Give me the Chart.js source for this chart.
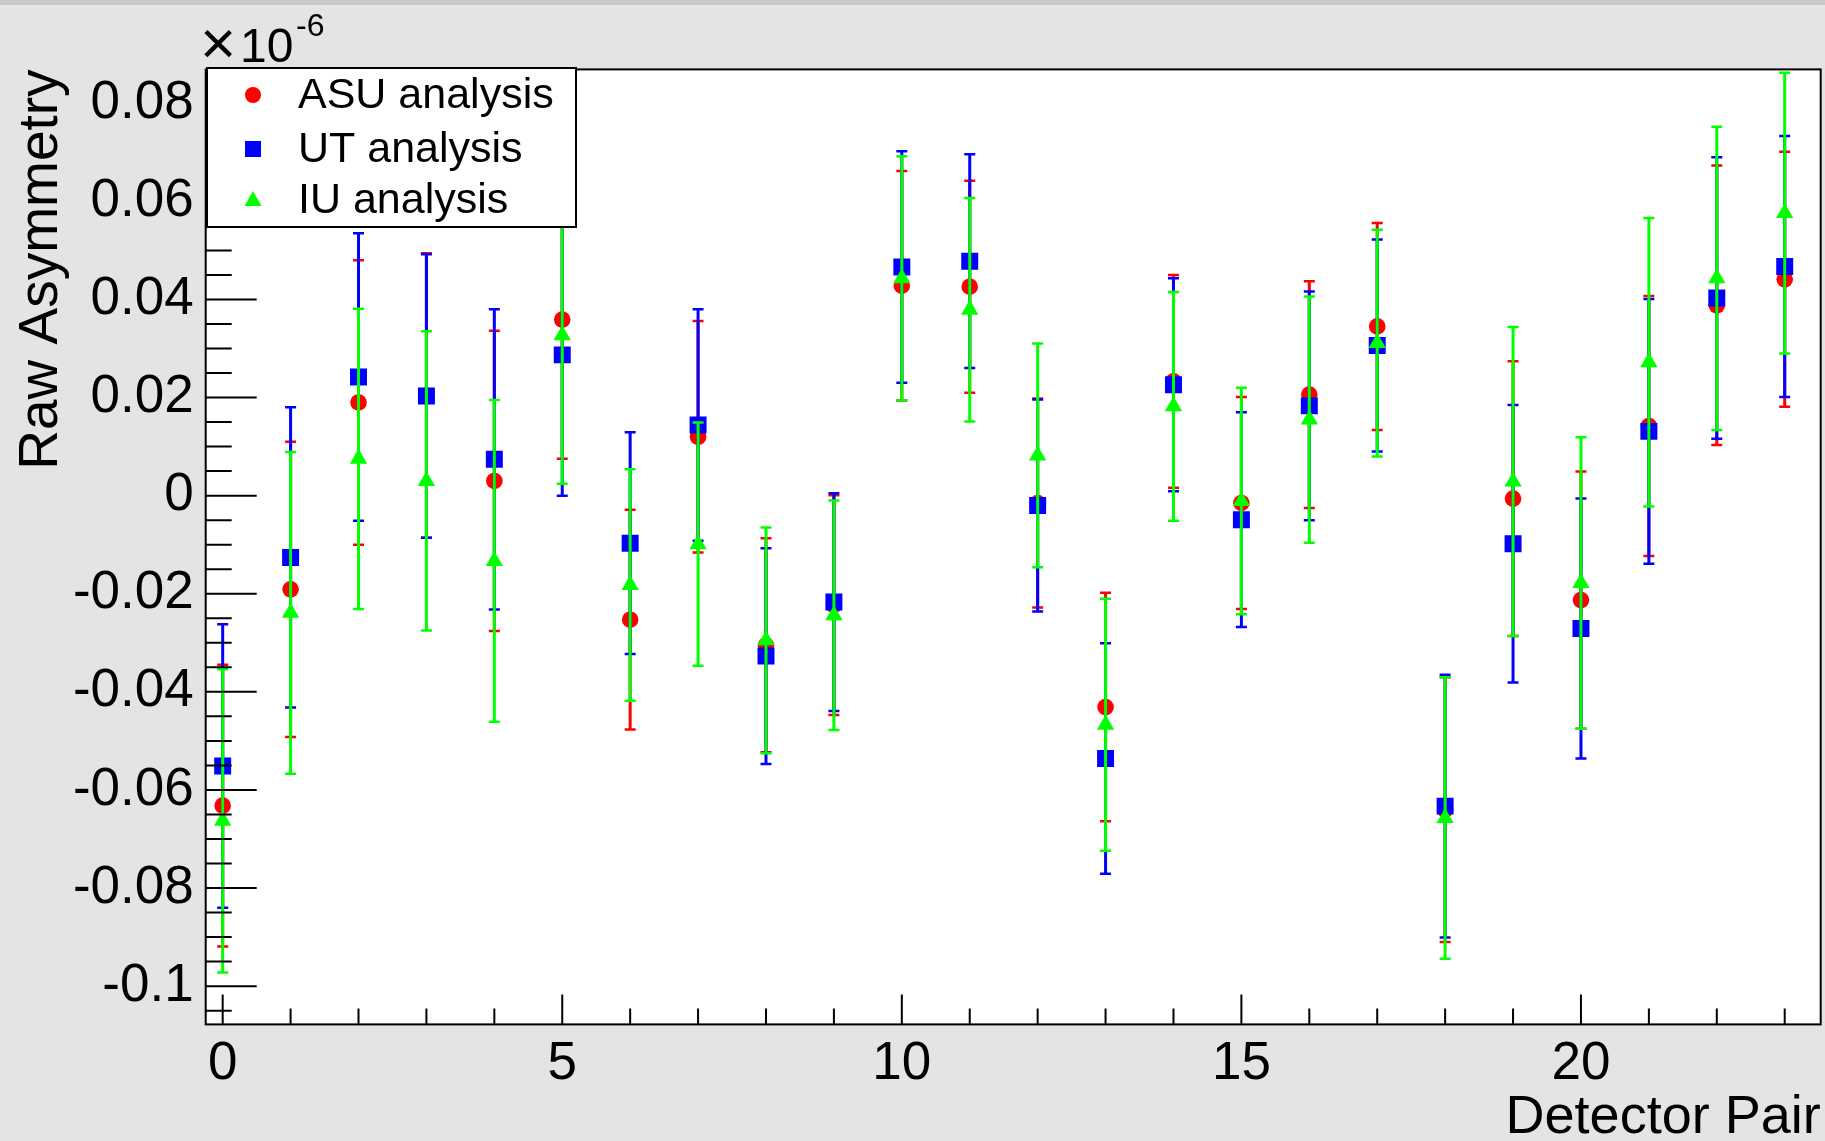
<!DOCTYPE html>
<html>
<head>
<meta charset="utf-8">
<title>Raw Asymmetry per Detector Pair</title>
<script src="https://cdn.jsdelivr.net/npm/chart.js@4.4.1/dist/chart.umd.min.js"></script>
<style>
  html, body { margin: 0; padding: 0; background: #e4e4e4; }
  canvas { display: block; }
</style>
</head>
<body>
<canvas id="chartAsym" width="1825" height="1141"></canvas>
<script>
// detector pair index on x, raw asymmetry in units of 1e-6 on y
const pairs = [0, 1, 2, 3, 4, 5, 6, 7, 8, 9, 10, 11, 12, 13, 14, 15, 16, 17, 18, 19, 20, 21, 22, 23];

const asuVal = [-0.0632, -0.0191, 0.0190, 0.0204, 0.0030, 0.0359, -0.0253, 0.0120, -0.0305, -0.0223, 0.0428, 0.0426, -0.0015, -0.0431, 0.0233, -0.0015, 0.0206, 0.0345, -0.0640, -0.0006, -0.0213, 0.0142, 0.0388, 0.0441];
const asuErr = [0.0287, 0.0301, 0.0290, 0.0290, 0.0306, 0.0284, 0.0224, 0.0236, 0.0218, 0.0224, 0.0234, 0.0216, 0.0213, 0.0233, 0.0217, 0.0216, 0.0231, 0.0211, 0.0270, 0.0280, 0.0262, 0.0265, 0.0285, 0.0260];

const utVal = [-0.0551, -0.0126, 0.0242, 0.0203, 0.0074, 0.0287, -0.0097, 0.0144, -0.0327, -0.0217, 0.0466, 0.0478, -0.0020, -0.0536, 0.0226, -0.0049, 0.0183, 0.0306, -0.0633, -0.0098, -0.0271, 0.0131, 0.0403, 0.0467];
const utErr = [0.0289, 0.0306, 0.0293, 0.0289, 0.0306, 0.0287, 0.0226, 0.0236, 0.0220, 0.0222, 0.0236, 0.0218, 0.0216, 0.0235, 0.0217, 0.0219, 0.0233, 0.0216, 0.0268, 0.0283, 0.0265, 0.0270, 0.0287, 0.0266];

const iuVal = [-0.0663, -0.0239, 0.0075, 0.0030, -0.0133, 0.0327, -0.0182, -0.0099, -0.0295, -0.0244, 0.0443, 0.0379, 0.0082, -0.0467, 0.0182, -0.0011, 0.0155, 0.0311, -0.0657, 0.0029, -0.0178, 0.0272, 0.0443, 0.0576];
const iuErr = [0.0309, 0.0328, 0.0306, 0.0305, 0.0328, 0.0303, 0.0236, 0.0248, 0.0230, 0.0234, 0.0249, 0.0228, 0.0228, 0.0257, 0.0233, 0.0231, 0.0251, 0.0231, 0.0287, 0.0315, 0.0297, 0.0294, 0.0309, 0.0286];

const xTicks = [0, 5, 10, 15, 20];
const yTicks = [-0.1, -0.08, -0.06, -0.04, -0.02, 0, 0.02, 0.04, 0.06, 0.08];
const yTickLabels = ["-0.1", "-0.08", "-0.06", "-0.04", "-0.02", "0", "0.02", "0.04", "0.06", "0.08"];

const FONT = "'Liberation Sans', Arial, Helvetica, sans-serif";

const points = (vals, errs) => pairs.map((p, i) => ({ x: p, y: vals[i], err: errs[i] }));

// vertical error bars with end caps, drawn just before each dataset's markers
const errorBars = {
  id: "errorBars",
  beforeDatasetDraw(chart, args) {
    const ds = chart.data.datasets[args.index];
    const { ctx, chartArea: a } = chart;
    const xs = chart.scales.x, ys = chart.scales.y;
    ctx.save();
    ctx.beginPath();
    ctx.rect(a.left, a.top, a.right - a.left, a.bottom - a.top);
    ctx.clip();
    ctx.strokeStyle = ds.pointBackgroundColor;
    ds.data.forEach((p) => {
      const px = xs.getPixelForValue(p.x);
      const top = ys.getPixelForValue(p.y + p.err);
      const bot = ys.getPixelForValue(p.y - p.err);
      ctx.lineWidth = 3;
      ctx.beginPath();
      ctx.moveTo(px, top);
      ctx.lineTo(px, bot);
      ctx.stroke();
      ctx.lineWidth = 2.5;
      ctx.beginPath();
      ctx.moveTo(px - 5.5, top);
      ctx.lineTo(px + 5.5, top);
      ctx.moveTo(px - 5.5, bot);
      ctx.lineTo(px + 5.5, bot);
      ctx.stroke();
    });
    ctx.restore();
  },
};

// grey pad, white frame, inward ticks (ROOT look)
const frame = {
  id: "frame",
  beforeDraw(chart) {
    const { ctx, chartArea: a, width, height } = chart;
    ctx.save();
    ctx.fillStyle = "#e4e4e4";
    ctx.fillRect(0, 0, width, height);
    ctx.fillStyle = "#c9c9c9";
    ctx.fillRect(0, 0, width, 5);
    ctx.fillStyle = "#ffffff";
    ctx.fillRect(a.left, a.top, a.right - a.left, a.bottom - a.top);
    ctx.restore();
  },
  afterDatasetsDraw(chart) {
    const { ctx, chartArea: a } = chart;
    const xs = chart.scales.x, ys = chart.scales.y;
    ctx.save();
    ctx.strokeStyle = "#000";
    ctx.lineWidth = 2;
    ctx.beginPath();
    // y ticks: major every 0.02, minor every 0.005
    for (let k = -22; k <= 17; k++) {
      const v = k * 0.005;
      if (v < ys.min || v > ys.max) continue;
      const py = ys.getPixelForValue(v);
      const len = k % 4 === 0 ? 51 : 26;
      ctx.moveTo(a.left, py);
      ctx.lineTo(a.left + len, py);
    }
    // x ticks: major every 5, minor every 1
    for (let k = 0; k <= Math.floor(xs.max); k++) {
      const px = xs.getPixelForValue(k);
      const len = k % 5 === 0 ? 30 : 16;
      ctx.moveTo(px, a.bottom);
      ctx.lineTo(px, a.bottom - len);
    }
    ctx.stroke();
    ctx.strokeRect(a.left, a.top, a.right - a.left, a.bottom - a.top);
    ctx.restore();
  },
  afterDraw(chart) {
    const { ctx } = chart;
    ctx.save();
    // exponent of the y axis: big times sign, "10", raised "-6"
    ctx.fillStyle = "#000";
    ctx.textBaseline = "alphabetic";
    ctx.font = "62px " + FONT;
    ctx.fillText("\u00d7", 200, 64);
    ctx.font = "48px " + FONT;
    ctx.fillText("10", 240, 62);
    ctx.font = "32px " + FONT;
    ctx.fillText("-6", 296, 36);

    // legend box
    const bx = 207, by = 68, bw = 369, bh = 159;
    ctx.fillStyle = "#fff";
    ctx.fillRect(bx, by, bw, bh);
    ctx.strokeStyle = "#000";
    ctx.lineWidth = 2;
    ctx.strokeRect(bx, by, bw, bh);
    const rows = [95, 149, 200];
    ctx.font = "43px " + FONT;
    chart.data.datasets.forEach((ds, i) => {
      const cy = rows[i];
      const cx = 253;
      ctx.fillStyle = ds.pointBackgroundColor;
      ctx.beginPath();
      if (ds.pointStyle === "circle") {
        ctx.arc(cx, cy, 8, 0, Math.PI * 2);
      } else if (ds.pointStyle === "rect") {
        ctx.rect(cx - 8, cy - 8, 16, 16);
      } else {
        ctx.moveTo(cx, cy - 9);
        ctx.lineTo(cx + 8.5, cy + 6);
        ctx.lineTo(cx - 8.5, cy + 6);
        ctx.closePath();
      }
      ctx.fill();
      ctx.fillStyle = "#000";
      ctx.textBaseline = "middle";
      ctx.fillText(ds.label, 298, cy + 1);
    });
    ctx.restore();
  },
};

new Chart(document.querySelector("#chartAsym"), {
  type: "scatter",
  data: {
    datasets: [
      {
        label: "ASU analysis",
        data: points(asuVal, asuErr),
        pointStyle: "circle",
        pointRadius: 8.3,
        pointBackgroundColor: "#ff0000",
        pointBorderWidth: 0,
        order: 3,
      },
      {
        label: "UT analysis",
        data: points(utVal, utErr),
        pointStyle: "rect",
        pointRadius: 12,
        pointBackgroundColor: "#0000ff",
        pointBorderWidth: 0,
        order: 2,
      },
      {
        label: "IU analysis",
        data: points(iuVal, iuErr),
        pointStyle: "triangle",
        pointRadius: 10,
        pointBackgroundColor: "#00ff00",
        pointBorderWidth: 0,
        order: 1,
      },
    ],
  },
  options: {
    responsive: false,
    animation: false,
    events: [],
    layout: {
      autoPadding: false,
      padding: { top: 69.4, right: 4.3, left: 0, bottom: 0 },
    },
    plugins: {
      legend: { display: false },
      tooltip: { enabled: false },
    },
    scales: {
      x: {
        type: "linear",
        min: -0.25,
        max: 23.53,
        grid: { display: false, drawTicks: false },
        border: { display: false },
        afterBuildTicks: (s) => { s.ticks = xTicks.map((v) => ({ value: v })); },
        afterFit: (s) => { s.height = 116.6; },
        ticks: {
          color: "#000",
          padding: 8,
          maxRotation: 0,
          autoSkip: false,
          font: { family: FONT, size: 53 },
        },
        title: {
          display: true,
          text: "Detector Pair",
          align: "end",
          color: "#000",
          font: { family: FONT, size: 54, lineHeight: 1 },
          padding: { top: 0, bottom: -4 },
        },
      },
      y: {
        type: "linear",
        min: -0.1078,
        max: 0.0869,
        grid: { display: false, drawTicks: false },
        border: { display: false },
        afterBuildTicks: (s) => { s.ticks = yTicks.map((v) => ({ value: v })); },
        afterFit: (s) => { s.width = 205.7; },
        ticks: {
          color: "#000",
          padding: 12,
          autoSkip: false,
          font: { family: FONT, size: 53 },
          callback: (v, i) => yTickLabels[i],
        },
        title: {
          display: true,
          text: "Raw Asymmetry",
          align: "end",
          color: "#000",
          font: { family: FONT, size: 55, lineHeight: 1 },
          padding: { top: 14, bottom: 0 },
        },
      },
    },
  },
  plugins: [frame, errorBars],
});
</script>
</body>
</html>
